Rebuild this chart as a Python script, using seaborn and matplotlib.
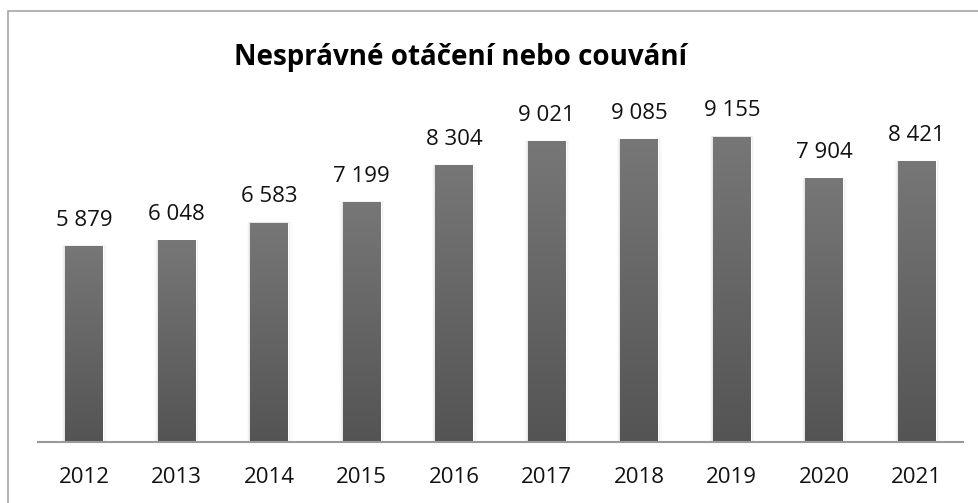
import matplotlib.pyplot as plt
import seaborn as sns
import numpy as np
import pandas as pd
from matplotlib.patches import Rectangle
from matplotlib.colors import LinearSegmentedColormap

years = ['2012', '2013', '2014', '2015', '2016', '2017', '2018', '2019', '2020', '2021']
counts = [5879, 6048, 6583, 7199, 8304, 9021, 9085, 9155, 7904, 8421]

df = pd.DataFrame({'rok': years, 'pocet': counts})

sns.set_style('white')
plt.rcParams['font.family'] = ['Open Sans', 'DejaVu Sans']

fig = plt.figure(figsize=(9.79, 5.03), dpi=100)
W, H = 979, 503
ax = fig.add_axes([38 / W, (H - 442) / H, 925 / W, 333.4 / H])

sns.barplot(data=df, x='rok', y='pocet', color='#666666', width=0.41,
            saturation=1, ax=ax, zorder=2)

# gradient fill + soft shadow for bars
grad = np.linspace(0, 1, 256).reshape(-1, 1)
cmap = LinearSegmentedColormap.from_list('g', ['#545454', '#777777'])
for p in ax.patches:
    x0, w, h = p.get_x(), p.get_width(), p.get_height()
    for k, a in enumerate([0.06, 0.04, 0.02]):
        d = 0.012 * (k + 1)
        ax.add_patch(Rectangle((x0 - d, 0), w + 2 * d, h + d * 700,
                               color='black', alpha=a, lw=0, zorder=1))
    im = ax.imshow(grad, extent=[x0, x0 + w, 0, h], aspect='auto',
                   cmap=cmap, origin='lower', zorder=3)
    im.set_clip_path(p)
    ax.annotate(f'{p.get_height():,.0f}'.replace(',', ' '),
                (x0 + w / 2, h), xytext=(0, 11), textcoords='offset points',
                ha='center', va='bottom', fontsize=16, color='#111111')

ax.set_xlim(-0.5, 9.5)
ax.set_ylim(0, 10000)
ax.set_xlabel('')
ax.set_ylabel('')
ax.set_yticks([])
ax.tick_params(axis='x', length=0, pad=18, labelsize=16, labelcolor='#111111')
for s in ['top', 'right', 'left']:
    ax.spines[s].set_visible(False)
ax.spines['bottom'].set_color('#999999')
ax.spines['bottom'].set_linewidth(1.5)
ax.spines['bottom'].set_zorder(5)

fig.text(461 / W, (H - 58) / H, 'Nesprávné otáčení nebo couvání', ha='center',
         va='center', fontsize=20, fontweight='bold', color='black')

# chart frame
fig.add_artist(Rectangle((8 / W, -0.01), 1.0, (H - 11) / H + 0.01,
                         transform=fig.transFigure, fill=False,
                         edgecolor='#a6a6a6', lw=1.2))

fig.savefig('out.png', dpi=100)
